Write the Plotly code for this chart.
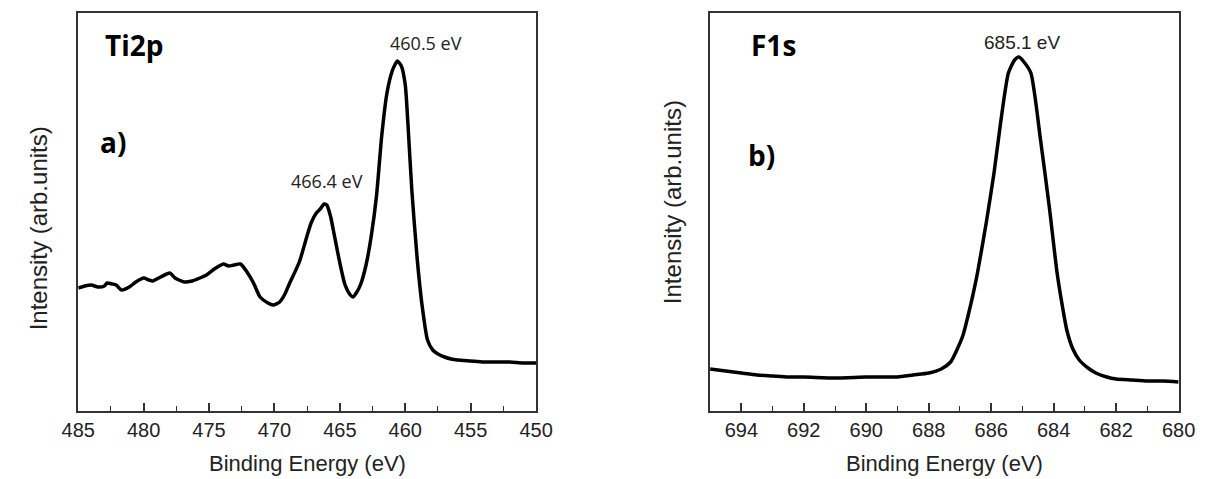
import plotly.graph_objects as go

# ---- Panel a) Ti2p ----
ti_energy = [485.0, 484.5, 484.0, 483.5, 483.0, 482.8, 482.4, 482.1, 481.7, 481.1,
             480.6, 480.0, 479.6, 479.3, 478.7, 478.0, 477.6, 476.9, 476.3, 475.7,
             475.2, 474.6, 473.9, 473.5, 473.1, 472.6, 472.1, 471.6, 471.1, 470.5,
             470.1, 469.6, 469.2, 468.9, 468.1, 467.6, 467.2, 466.8, 466.5, 466.2,
             466.0, 465.7, 465.5, 465.0, 464.6, 464.2, 464.0, 463.7, 463.4, 463.0,
             462.6, 462.2, 461.8, 461.4, 461.0, 460.8, 460.6, 460.3, 460.0, 459.8,
             459.5, 459.1, 458.7, 458.3, 457.9, 457.5, 457.0, 456.5, 456.0, 455.0,
             454.0, 453.0, 452.0, 451.0, 450.0]
ti_intensity = [123, 125, 126, 124, 125, 128, 127, 126, 121, 124,
                129, 133, 131, 130, 134, 138, 133, 129, 130, 133,
                136, 142, 147, 145, 146, 147, 139, 128, 114, 108,
                106, 109, 117, 126, 149, 171, 188, 198, 202, 207,
                206, 194, 181, 148, 126, 116, 114, 119, 127, 146,
                175, 215, 275, 318, 340, 346, 350, 345, 326, 288,
                221, 154, 104, 71, 61, 57, 54, 52, 51, 50,
                49, 49, 49, 48, 48]

# ---- Panel b) F1s ----
f_energy = [695.0, 694.5, 694.0, 693.5, 693.0, 692.5, 692.0, 691.0, 690.0, 689.5,
            689.0, 688.5, 688.0, 687.6, 687.3, 687.1, 686.9, 686.75, 686.6, 686.44,
            686.16, 685.91, 685.7, 685.45, 685.25, 685.11, 684.95, 684.73, 684.42, 684.14,
            683.89, 683.7, 683.58, 683.4, 683.18, 682.9, 682.65, 682.3, 682.0, 681.5,
            681.0, 680.5, 680.0]
f_intensity = [42, 40, 38, 36, 35, 34, 34, 33, 34, 34,
               34, 36, 38, 42, 49, 61, 76, 94, 114, 138,
               188, 238, 288, 338, 351, 354, 349, 338, 271, 204,
               138, 101, 81, 63, 51, 43, 38, 34, 32, 31,
               30, 30, 29]

# ---- text ----
x_title = "Binding Energy (eV)"
y_title = "Intensity (arb.units)"
ti_peaks = [(460.5, "460.5 eV", 458.4, 368), (466.4, "466.4 eV", 465.98, 230)]
f_peaks = [(685.1, "685.1 eV", 685.01, 369)]

W, H = 1217, 479
# pixel boxes of the two plot areas
L1, R1 = 63, 534
L2, R2 = 713, 1195
TOP, BOT = 13, 411

def fx(px):
    return px / W

def fy(py):
    return 1 - py / H

fig = go.Figure()
line_style = dict(color="black", width=3.5, shape="spline", smoothing=0.6)
fig.add_trace(go.Scatter(x=ti_energy, y=ti_intensity, mode="lines", line=line_style,
                         xaxis="x", yaxis="y", showlegend=False))
fig.add_trace(go.Scatter(x=f_energy, y=f_intensity, mode="lines", line=line_style,
                         xaxis="x2", yaxis="y2", showlegend=False))

tick_font = dict(family="Liberation Sans, Arial", size=20, color="#222")
axis_common = dict(showline=True, linecolor="#333", linewidth=1.5, mirror=True,
                   showgrid=False, zeroline=False)

fig.update_layout(
    width=W, height=H,
    margin=dict(l=0, r=0, t=0, b=0),
    paper_bgcolor="white", plot_bgcolor="white",
    xaxis=dict(domain=[fx(L1), fx(R1)], range=[485, 450], tickmode="linear", tick0=450, dtick=5,
               ticks="inside", ticklen=8, tickwidth=1.5, tickcolor="#333",
               minor=dict(ticks="inside", ticklen=5, dtick=2.5, tick0=450, tickwidth=1.2, tickcolor="#333"),
               tickfont=tick_font, anchor="y", **axis_common),
    yaxis=dict(domain=[fy(BOT), fy(TOP)], range=[0, 398], showticklabels=False, ticks="",
               anchor="x", **axis_common),
    xaxis2=dict(domain=[fx(L2), fx(R2)], range=[695, 680], tickmode="linear", tick0=680, dtick=2,
                ticks="inside", ticklen=8, tickwidth=1.5, tickcolor="#333",
                minor=dict(ticks="inside", ticklen=5, dtick=1, tick0=680, tickwidth=1.2, tickcolor="#333"),
                tickfont=tick_font, anchor="y2", **axis_common),
    yaxis2=dict(domain=[fy(BOT), fy(TOP)], range=[0, 398], showticklabels=False, ticks="",
                anchor="x2", **axis_common),
)

ann = []
title_font = dict(family="Liberation Sans, Arial", size=22, color="#222")
ytitle_font = dict(family="Liberation Sans, Arial", size=24, color="#222")
# x titles
ann.append(dict(text=x_title, xref="paper", yref="paper", x=fx((L1 + R1) / 2), y=fy(463),
                showarrow=False, font=title_font, xanchor="center", yanchor="middle"))
ann.append(dict(text=x_title, xref="paper", yref="paper", x=fx((L2 + R2) / 2), y=fy(463),
                showarrow=False, font=title_font, xanchor="center", yanchor="middle"))
# y titles
ann.append(dict(text=y_title, xref="paper", yref="paper", x=fx(23), y=fy(228), textangle=-90,
                showarrow=False, font=ytitle_font, xanchor="center", yanchor="middle"))
ann.append(dict(text=y_title, xref="paper", yref="paper", x=fx(675), y=fy(202), textangle=-90,
                showarrow=False, font=ytitle_font, xanchor="center", yanchor="middle"))

bold_font = dict(family="Open Sans", size=28, color="black")
panel_labels = [("<b>Ti2p</b>", 88, 45), ("<b>a)</b>", 83, 142), ("<b>F1s</b>", 753, 45), ("<b>b)</b>", 750, 155)]
for t, px, py in panel_labels:
    ann.append(dict(text=t, xref="paper", yref="paper", x=fx(px), y=fy(py), showarrow=False,
                    font=bold_font, xanchor="left", yanchor="middle"))

for _, t, xe, yi in ti_peaks:
    ann.append(dict(text=t, xref="x", yref="y", x=xe, y=yi, showarrow=False,
                    font=dict(family="Open Sans", size=18, color="#222"), xanchor="center", yanchor="middle"))
for _, t, xe, yi in f_peaks:
    ann.append(dict(text=t, xref="x2", yref="y2", x=xe, y=yi, showarrow=False,
                    font=dict(family="Liberation Sans, Arial", size=19, color="#222"), xanchor="center", yanchor="middle"))

fig.update_layout(annotations=ann)
fig.write_html("out.html", config={"displayModeBar": False},
               post_script="document.body.style.margin='0';document.body.style.padding='0';")
